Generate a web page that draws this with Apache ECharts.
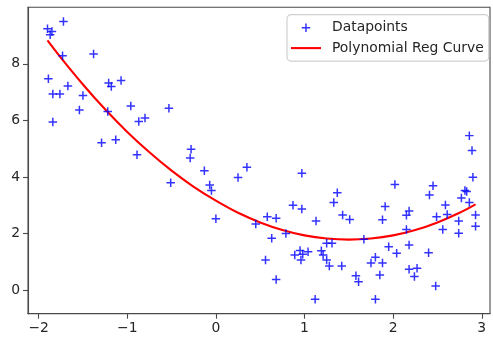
<!DOCTYPE html>
<html>
<head>
<meta charset="utf-8">
<script src="https://cdn.jsdelivr.net/npm/echarts@6/dist/echarts.min.js"></script>
<style>
  html, body { margin: 0; padding: 0; background: #ffffff; }
  #chart { width: 493px; height: 343px; }
</style>
</head>
<body>
<div id="chart"></div>
<script>
// Scattered observations
const dataX = [
  -1.72, -1.90, -1.85, -1.87, -1.73, -1.38, -1.89, -1.84, -1.76, -1.67,
  -1.50, -1.54, -1.21, -1.18, -1.07, -1.22, -1.84, -0.96, -0.53, -0.87,
  -0.80, -1.29, -1.13, -0.89, -0.28, -0.29, -0.13, 0.35, 0.25, -0.51,
  -0.07, -0.05, 0.00, 0.45, 0.97, 0.87, 0.97, 1.13, 0.58, 0.68,
  0.79, 0.63, 0.56, 0.68, 0.89, 0.95, 0.98, 0.96, 1.04, 1.37,
  1.33, 1.43, 1.51, 1.25, 1.31, 1.19, 1.21, 1.25, 1.28, 1.42,
  1.58, 1.61, 1.12, 2.02, 1.91, 1.88, 2.18, 2.15, 2.15, 1.67,
  1.95, 2.04, 2.18, 2.40, 1.80, 1.75, 1.88, 1.85, 2.18, 2.27,
  2.24, 1.80, 2.41, 2.45, 2.86, 2.89, 2.90, 2.81, 2.83, 2.77,
  2.86, 2.59, 2.61, 2.49, 2.93, 2.74, 2.93, 2.56, 2.74, 2.48
];
const dataY = [
  9.50, 9.24, 9.14, 9.03, 8.29, 8.35, 7.47, 6.93, 6.93, 7.22,
  6.88, 6.37, 7.32, 7.20, 7.41, 6.31, 5.94, 6.51, 6.43, 5.96,
  6.08, 5.21, 5.31, 4.78, 4.98, 4.67, 4.22, 4.34, 3.98, 3.79,
  3.71, 3.52, 2.52, 2.33, 4.13, 3.00, 2.86, 2.44, 2.59, 2.54,
  2.00, 1.83, 1.06, 0.37, 1.24, 1.40, 1.26, 1.06, 1.35, 3.44,
  3.09, 2.65, 2.49, 1.65, 1.65, 1.39, 1.24, 1.06, 0.85, 0.85,
  0.50, 0.29, -0.33, 3.73, 2.95, 2.48, 2.79, 2.64, 2.14, 1.79,
  1.53, 1.30, 1.59, 1.32, 1.16, 0.95, 0.95, 0.53, 0.73, 0.77,
  0.48, -0.33, 3.36, 3.69, 5.46, 4.93, 3.99, 3.52, 3.48, 3.25,
  3.09, 3.01, 2.67, 2.59, 2.65, 2.44, 2.25, 2.14, 2.01, 0.14
];

// Fitted regression curve samples
const curveX = [-1.90, -1.75, -1.50, -1.25, -1.00, -0.75, -0.50, -0.25, 0.00, 0.25,
                0.50, 0.75, 1.00, 1.25, 1.50, 1.75, 2.00, 2.25, 2.50, 2.75, 2.93];
const curveY = [8.83, 8.22, 7.27, 6.39, 5.59, 4.87, 4.22, 3.65, 3.16, 2.73,
                2.39, 2.12, 1.93, 1.82, 1.78, 1.82, 1.93, 2.12, 2.39, 2.73, 3.03];

// Axis ticks
const xTickValues = [-2, -1, 0, 1, 2, 3];
const xTickLabels = ['\u22122', '\u22121', '0', '1', '2', '3'];
const yTickValues = [0, 2, 4, 6, 8];
const yTickLabels = ['0', '2', '4', '6', '8'];

const seriesNames = ['Datapoints', 'Polynomial Reg Curve'];

const points = dataX.map((x, i) => [x, dataY[i]]);
const curve = curveX.map((x, i) => [x, curveY[i]]);

const plusPath = 'path://M0,4.12H10V5.88H0Z M4.12,0H5.88V10H4.12Z';
const linePath = 'path://M0,0H30V2.1H0Z';

const FONT = 'DejaVu Sans';
const AXIS_COLOR = '#4a4a4a';
const TEXT_COLOR = '#262626';

const chart = echarts.init(document.getElementById('chart'), null, { renderer: 'canvas' });
chart.setOption({
  animation: false,
  backgroundColor: '#ffffff',
  grid: {
    left: 28, right: 3, top: 7.3, bottom: 29.3,
    show: true, borderColor: AXIS_COLOR, borderWidth: 1.1,
    backgroundColor: 'transparent'
  },
  xAxis: {
    type: 'value', min: -2.12, max: 3.093,
    splitLine: { show: false },
    axisLine: { show: true, onZero: false, lineStyle: { color: AXIS_COLOR, width: 1.1 } },
    axisTick: { show: true, length: 5, customValues: xTickValues, lineStyle: { color: AXIS_COLOR, width: 1.1 } },
    axisLabel: {
      customValues: xTickValues, margin: 8,
      fontFamily: FONT, fontSize: 13.9, color: TEXT_COLOR,
      formatter: v => xTickLabels[xTickValues.indexOf(v)] ?? ''
    }
  },
  yAxis: {
    type: 'value', min: -0.84, max: 10.0,
    splitLine: { show: false },
    axisLine: { show: true, onZero: false, lineStyle: { color: AXIS_COLOR, width: 1.1 } },
    axisTick: { show: true, length: 5, customValues: yTickValues, lineStyle: { color: AXIS_COLOR, width: 1.1 } },
    axisLabel: {
      customValues: yTickValues, margin: 8,
      fontFamily: FONT, fontSize: 13.9, color: TEXT_COLOR,
      formatter: v => yTickLabels[yTickValues.indexOf(v)] ?? ''
    }
  },
  legend: {
    orient: 'vertical', right: 4.3, top: 14.7,
    padding: [6, 5, 6, 4],
    itemWidth: 30, itemHeight: 8.5, itemGap: 6.4,
    backgroundColor: 'rgba(255,255,255,0.8)',
    borderColor: '#d0d0d0', borderWidth: 1.2, borderRadius: 4,
    textStyle: { fontFamily: FONT, fontSize: 13.9, color: TEXT_COLOR, lineHeight: 14, padding: [0, 0, 0, 6] },
    data: [
      { name: seriesNames[0], icon: plusPath },
      { name: seriesNames[1], icon: linePath }
    ]
  },
  series: [
    {
      name: seriesNames[0], type: 'scatter', data: points,
      symbol: plusPath, symbolSize: 8.5,
      itemStyle: { color: '#0000ff' },
      z: 3
    },
    {
      name: seriesNames[1], type: 'line', data: curve,
      smooth: 0.3, showSymbol: false, symbol: 'none',
      lineStyle: { color: '#ff0000', width: 2.1 },
      itemStyle: { color: '#ff0000' },
      z: 2
    }
  ]
});
</script>
</body>
</html>
